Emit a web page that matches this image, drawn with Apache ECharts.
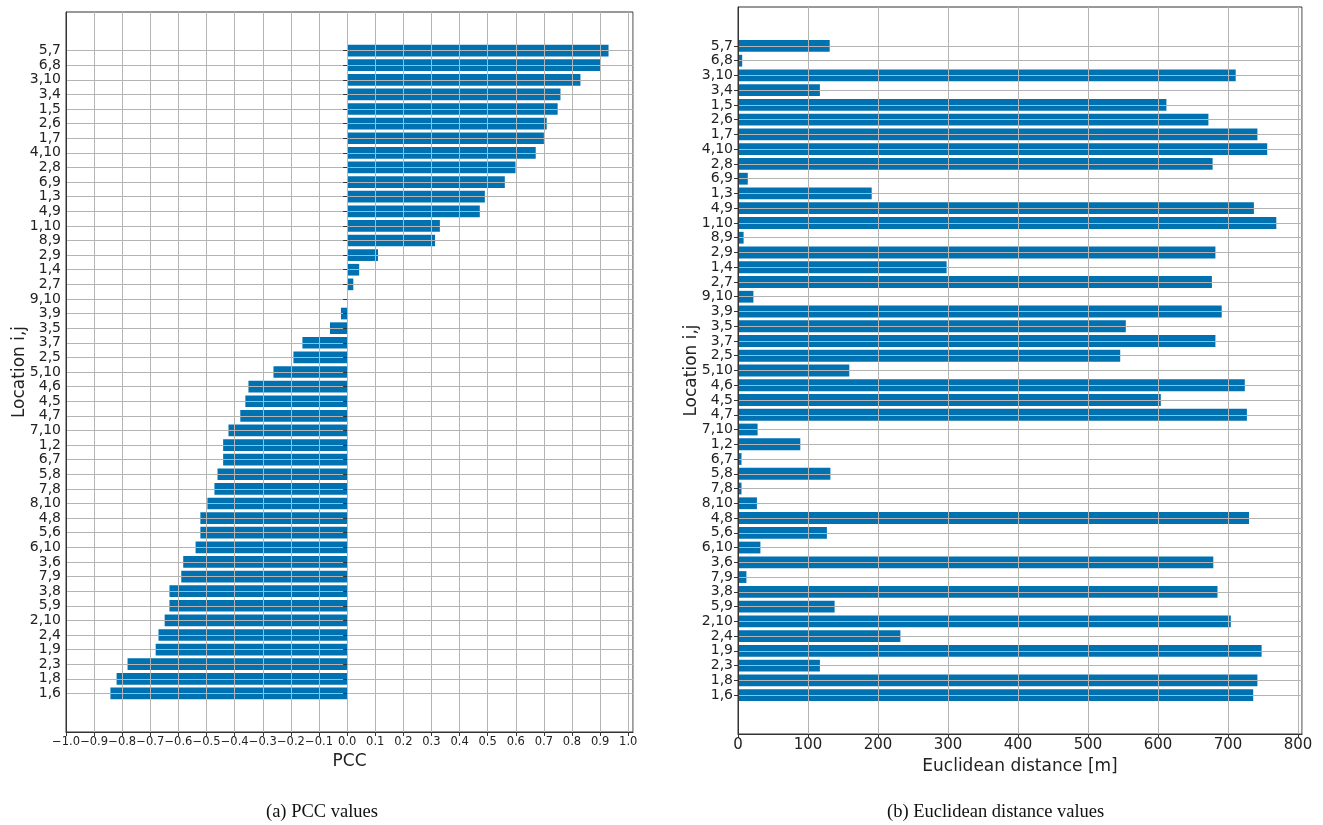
<!DOCTYPE html>
<html><head><meta charset="utf-8">
<script src="https://cdn.jsdelivr.net/npm/echarts@6/dist/echarts.min.js"></script>
<style>html,body{margin:0;padding:0;background:#fff}#c{width:1323px;height:825px}</style>
</head><body><div id="c"></div>
<script>
// ---- data ----
const pairs = ['5,7','6,8','3,10','3,4','1,5','2,6','1,7','4,10','2,8','6,9','1,3','4,9','1,10','8,9','2,9','1,4','2,7','9,10','3,9','3,5','3,7','2,5','5,10','4,6','4,5','4,7','7,10','1,2','6,7','5,8','7,8','8,10','4,8','5,6','6,10','3,6','7,9','3,8','5,9','2,10','2,4','1,9','2,3','1,8','1,6'];
const pccValues = [0.930,0.900,0.830,0.759,0.749,0.710,0.700,0.671,0.599,0.561,0.490,0.472,0.330,0.313,0.110,0.043,0.022,0.003,-0.022,-0.061,-0.159,-0.191,-0.262,-0.351,-0.362,-0.380,-0.422,-0.441,-0.441,-0.461,-0.472,-0.497,-0.522,-0.522,-0.539,-0.583,-0.590,-0.632,-0.632,-0.649,-0.671,-0.681,-0.781,-0.820,-0.842];
const distanceValues = [131,6,711,117,612,672,742,756,678,14,191,737,769,8,682,298,677,22,691,554,682,546,159,724,604,727,28,89,5,132,5,27,730,127,32,679,12,685,138,704,232,748,117,742,736];
const pccAxis = {min: -1.0, max: 1.017, step: 0.1};
const distAxis = {min: 0, max: 805.7, step: 100};
const captions = ['(a) PCC values', '(b) Euclidean distance values'];
const axisTitles = {pcc: 'PCC', dist: 'Euclidean distance [m]', loc: 'Location i,j'};

// ---- layout ----
const PAD = 2.64; // category padding (matplotlib margins)
function frames(left, top, width, height) {
  const u = height / (pairs.length - 1 + 2 * PAD);
  return {
    outer: {left, top, width, height, show: true, borderColor: '#333', borderWidth: 1, backgroundColor: 'transparent'},
    inner: {left, top: top + PAD * u, width, height: (pairs.length - 1) * u},
    bar: u * 0.8
  };
}
const L = frames(66, 12, 567, 720);
const R = frames(738, 7, 564, 727);

const txt = '#222';
const gridLine = {show: true, lineStyle: {color: '#b4b4b4', width: 1}};
const minusFmt = v => (Math.abs(v) < 1e-9 ? 0 : v).toFixed(1).replace('-', '\u2212');

function frameX(idx, a, name, fs, labelFmt, nameGap) {
  return {
    gridIndex: idx, type: 'value', min: a.min, max: a.max, interval: a.step, z: 10,
    axisLine: {show: true, onZero: false, lineStyle: {color: '#333', width: 1}},
    axisTick: {show: true, length: 4, lineStyle: {color: '#333'}},
    axisLabel: {show: true, color: txt, fontSize: fs, fontFamily: 'DejaVu Sans', margin: 4, showMaxLabel: false, formatter: labelFmt},
    splitLine: gridLine,
    name: name, nameLocation: 'middle', nameGap: nameGap,
    nameTextStyle: {color: txt, fontSize: 17, fontFamily: 'DejaVu Sans'}
  };
}
function hiddenX(idx, a) {
  return {gridIndex: idx, type: 'value', min: a.min, max: a.max, show: false, splitLine: {show: false}};
}
function frameY(idx) {
  return {
    gridIndex: idx, type: 'value', min: 0, max: 1, z: 10,
    axisLine: {show: true, onZero: false, lineStyle: {color: '#333', width: 1}},
    axisTick: {show: false}, axisLabel: {show: false}, splitLine: {show: false},
    name: axisTitles.loc, nameLocation: 'middle', nameGap: 38, nameRotate: 90,
    nameTextStyle: {color: txt, fontSize: 17, fontFamily: 'DejaVu Sans'}
  };
}
function catY(idx) {
  return {
    gridIndex: idx, type: 'category', data: pairs, inverse: true, boundaryGap: false, z: 10,
    axisLine: {show: false},
    axisTick: {show: true, length: 4, interval: 0, lineStyle: {color: '#333'}},
    axisLabel: {show: true, interval: 0, color: txt, fontSize: 14, fontFamily: 'DejaVu Sans', margin: 5},
    splitLine: Object.assign({interval: 0}, gridLine)
  };
}

const option = {
  animation: false,
  backgroundColor: '#fff',
  grid: [L.outer, L.inner, R.outer, R.inner],
  xAxis: [
    frameX(0, pccAxis, axisTitles.pcc, 11.5, minusFmt, 14),
    hiddenX(1, pccAxis),
    frameX(2, distAxis, axisTitles.dist, 15, v => String(Math.round(v)), 20),
    hiddenX(3, distAxis)
  ],
  yAxis: [frameY(0), catY(1), frameY(2), catY(3)],
  series: [
    {type: 'bar', xAxisIndex: 1, yAxisIndex: 1, data: pccValues, barWidth: L.bar, clip: false,
     itemStyle: {color: '#0072b2'}, z: 2},
    {type: 'bar', xAxisIndex: 3, yAxisIndex: 3, data: distanceValues, barWidth: R.bar, clip: false,
     itemStyle: {color: '#0072b2'}, z: 2}
  ],
  graphic: [
    {type: 'text', left: 266, top: 803, style: {text: captions[0], font: '18.5px "Liberation Serif"', fill: '#111'}},
    {type: 'text', left: 887, top: 803, style: {text: captions[1], font: '18.5px "Liberation Serif"', fill: '#111'}}
  ]
};
const chart = echarts.init(document.getElementById('c'), null, {renderer: 'canvas'});
chart.setOption(option);
</script></body></html>
